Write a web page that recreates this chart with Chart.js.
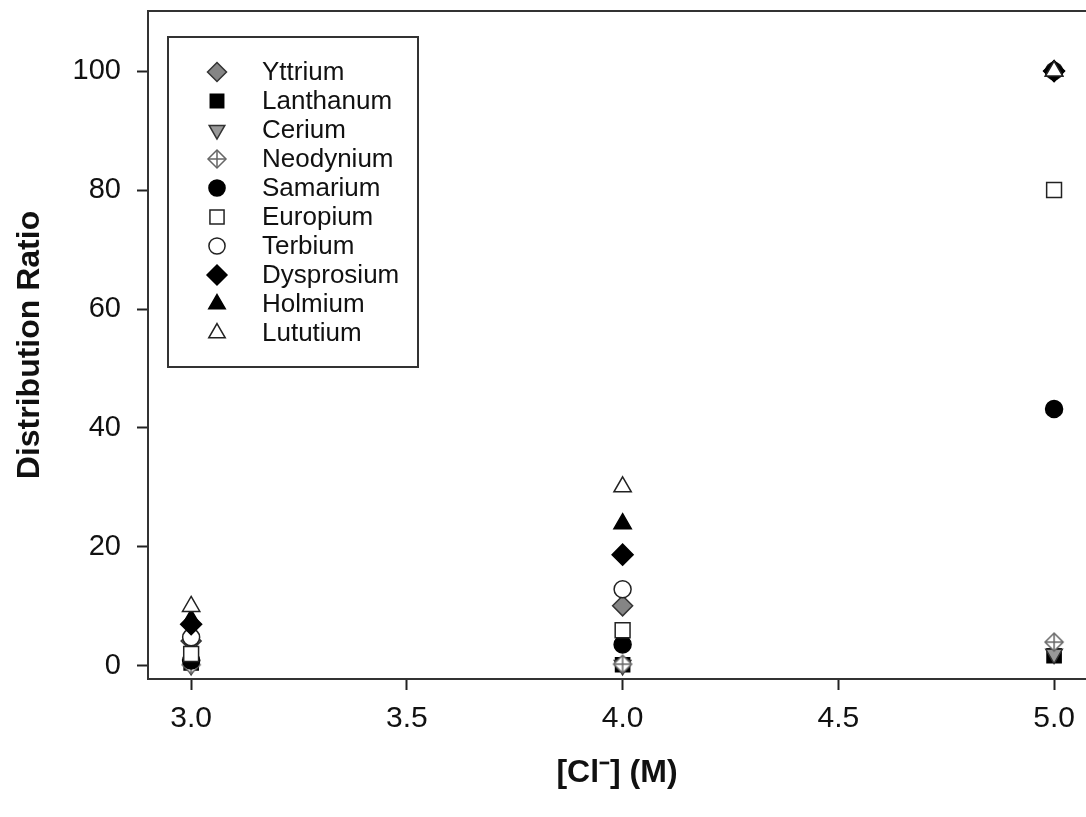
<!DOCTYPE html>
<html>
<head>
<meta charset="utf-8">
<script src="https://cdn.jsdelivr.net/npm/chart.js@4/dist/chart.umd.min.js"></script>
<style>
  html, body { margin: 0; padding: 0; background: #fff; }
  canvas { display: block; }
</style>
</head>
<body>
<canvas id="chart" width="1086" height="817"></canvas>
<script>
// [Cl-] concentration (M)
const concentrations = [3.0, 4.0, 5.0];

// distribution ratios
const yttrium    = [4.2, 10.1, 100];
const lanthanum  = [0.5, 0.2, 1.7];
const cerium     = [0.1, 0.1, 2.0];
const neodymium  = [0.2, 0.3, 4.0];
const samarium   = [0.9, 3.6, 43.2];
const europium   = [2.0, 6.0, 80];
const terbium    = [4.8, 12.9, 100];
const dysprosium = [7.0, 18.7, 100];
const holmium    = [7.8, 23.9, 100];
const lututium   = [10.0, 30.1, 100];

const elementNames = ['Yttrium', 'Lanthanum', 'Cerium', 'Neodynium', 'Samarium',
                      'Europium', 'Terbium', 'Dysprosium', 'Holmium', 'Lututium'];
const elementValues = [yttrium, lanthanum, cerium, neodymium, samarium,
                       europium, terbium, dysprosium, holmium, lututium];

const xTicks = [3.0, 3.5, 4.0, 4.5, 5.0];
const yTicks = [0, 20, 40, 60, 80, 100];

const FONT = '"Liberation Sans", Arial, sans-serif';

// the plot frame runs off the right edge of the page, so don't let
// marker overflow shrink the chart area
Chart.registry.getController('scatter').prototype.getMaxOverflow = function() { return 0; };

// diamond with a cross through it, for neodymium
function crossDiamond() {
    const c = document.createElement('canvas');
    c.width = 22; c.height = 22;
    const g = c.getContext('2d');
    g.strokeStyle = '#666';
    g.lineWidth = 1.5;
    g.fillStyle = '#fff';
    g.beginPath();
    g.moveTo(11, 2); g.lineTo(20, 11); g.lineTo(11, 20); g.lineTo(2, 11); g.closePath();
    g.fill(); g.stroke();
    g.beginPath();
    g.moveTo(11, 2); g.lineTo(11, 20);
    g.moveTo(2, 11); g.lineTo(20, 11);
    g.stroke();
    return c;
}

const markerStyles = [
    { pointStyle: 'rectRot', radius: 10, rotation: 0, fill: '#858585', stroke: '#333' },
    { pointStyle: 'rect', radius: 10, rotation: 0, fill: '#000', stroke: '#000' },
    { pointStyle: 'triangle', radius: 9.5, rotation: 180, fill: '#999', stroke: '#333' },
    { pointStyle: crossDiamond(), radius: 10, rotation: 0, fill: '#fff', stroke: '#666' },
    { pointStyle: 'circle', radius: 8.5, rotation: 0, fill: '#000', stroke: '#000' },
    { pointStyle: 'rect', radius: 10.5, rotation: 0, fill: '#fff', stroke: '#222' },
    { pointStyle: 'circle', radius: 8.5, rotation: 0, fill: '#fff', stroke: '#222' },
    { pointStyle: 'rectRot', radius: 10.5, rotation: 0, fill: '#000', stroke: '#000' },
    { pointStyle: 'triangle', radius: 10, rotation: 0, fill: '#000', stroke: '#000' },
    { pointStyle: 'triangle', radius: 10, rotation: 0, fill: '#fff', stroke: '#222' }
];

const datasets = elementNames.map((name, i) => ({
    label: name,
    data: concentrations.map((c, j) => ({ x: c, y: elementValues[i][j] })),
    showLine: false,
    clip: false,
    pointStyle: markerStyles[i].pointStyle,
    pointRadius: markerStyles[i].radius,
    pointRotation: markerStyles[i].rotation,
    pointBackgroundColor: markerStyles[i].fill,
    pointBorderColor: markerStyles[i].stroke,
    pointBorderWidth: 1.5,
    order: elementNames.length - i   // later series on top, like the original
}));

// top edge of the frame (right edge runs off the page)
const frameTop = {
    id: 'frameTop',
    afterDraw(chart) {
        const { ctx, chartArea } = chart;
        ctx.save();
        ctx.strokeStyle = '#333';
        ctx.lineWidth = 2;
        ctx.beginPath();
        ctx.moveTo(chartArea.left - 1, chartArea.top);
        ctx.lineTo(chartArea.right, chartArea.top);
        ctx.stroke();
        ctx.restore();
    }
};

// boxed legend inside the plot
const boxLegend = {
    id: 'boxLegend',
    afterDraw(chart) {
        const ctx = chart.ctx;
        const box = { left: 168, top: 37, right: 418, bottom: 367 };
        ctx.save();
        ctx.fillStyle = '#fff';
        ctx.fillRect(box.left, box.top, box.right - box.left, box.bottom - box.top);
        ctx.strokeStyle = '#333';
        ctx.lineWidth = 2;
        ctx.strokeRect(box.left, box.top, box.right - box.left, box.bottom - box.top);

        ctx.font = '26px ' + FONT;
        ctx.textBaseline = 'middle';
        chart.data.datasets.forEach((ds, i) => {
            const y = 72 + i * 29;
            const m = markerStyles[i];
            ctx.fillStyle = m.fill;
            ctx.strokeStyle = m.stroke;
            ctx.lineWidth = 1.5;
            Chart.helpers.drawPoint(ctx, {
                pointStyle: m.pointStyle,
                radius: m.radius * 0.95,
                rotation: m.rotation,
                borderWidth: 1.5
            }, 217, y);
            ctx.fillStyle = '#111';
            ctx.fillText(ds.label, 262, y + 1);
        });
        ctx.restore();
    }
};

new Chart(document.getElementById('chart'), {
    type: 'scatter',
    data: { datasets },
    options: {
        responsive: false,
        animation: false,
        layout: { padding: { top: 11, left: 0, right: 0, bottom: 0 } },
        plugins: {
            legend: { display: false },
            tooltip: { enabled: false }
        },
        scales: {
            x: {
                type: 'linear',
                min: 2.9,
                max: 5.074,
                afterBuildTicks: axis => { axis.ticks = xTicks.map(v => ({ value: v })); },
                afterFit: axis => {
                    axis.height = 138;
                    axis.paddingLeft = 0;
                    axis.paddingRight = 0;
                },
                grid: {
                    drawOnChartArea: false,
                    drawTicks: true,
                    tickLength: 11,
                    tickColor: '#222',
                    tickWidth: 2
                },
                border: { color: '#333', width: 2 },
                ticks: {
                    padding: 11,
                    color: '#111',
                    font: { family: FONT, size: 30 },
                    callback: v => v.toFixed(1)
                },
                title: {
                    display: true,
                    text: '[Cl⁻] (M)',
                    color: '#111',
                    padding: { top: 0, bottom: 25 },
                    font: { family: FONT, size: 32, weight: 'bold' }
                }
            },
            y: {
                type: 'linear',
                min: -2.2,
                max: 110.1,
                afterBuildTicks: axis => { axis.ticks = yTicks.map(v => ({ value: v })); },
                afterFit: axis => {
                    axis.width = 148;
                    axis.paddingTop = 0;
                    axis.paddingBottom = 0;
                },
                grid: {
                    drawOnChartArea: false,
                    drawTicks: true,
                    tickLength: 11,
                    tickColor: '#222',
                    tickWidth: 2
                },
                border: { color: '#333', width: 2 },
                ticks: {
                    padding: 16,
                    color: '#111',
                    font: { family: FONT, size: 29 },
                    callback: v => String(v)
                },
                title: {
                    display: true,
                    text: 'Distribution Ratio',
                    color: '#111',
                    padding: { top: 11, bottom: 0 },
                    font: { family: FONT, size: 32, weight: 'bold' }
                }
            }
        }
    },
    plugins: [frameTop, boxLegend]
});
</script>
</body>
</html>
